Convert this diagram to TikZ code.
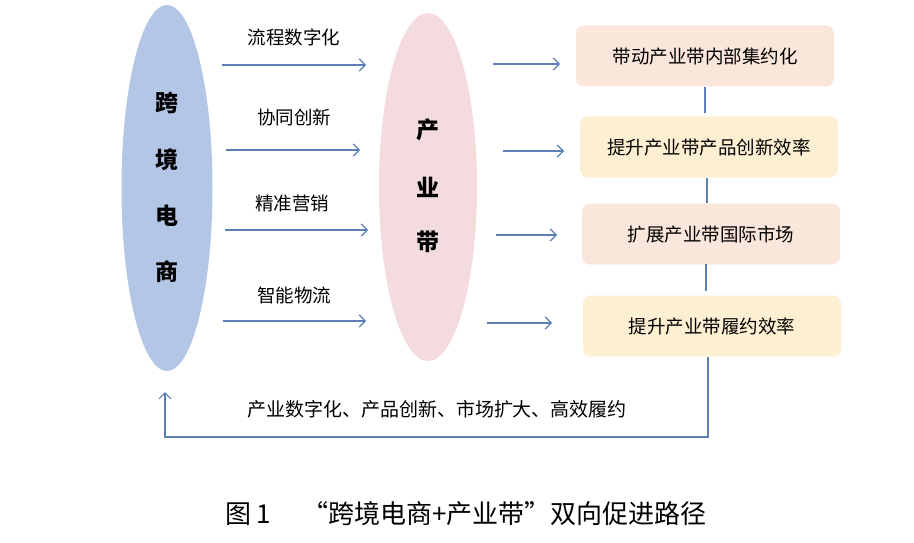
\documentclass[tikz,border=0pt]{standalone}
\usepackage{fontspec}
\setmainfont{Noto Sans CJK SC}
\usetikzlibrary{arrows.meta,shapes.geometric}
\definecolor{arrowblue}{HTML}{5B7FB5}
\definecolor{ellblue}{HTML}{B3C6E6}
\definecolor{ellpink}{HTML}{F4DCDE}
\definecolor{boxpeach}{HTML}{FAE6DA}
\definecolor{boxyellow}{HTML}{FDF0D2}
\tikzset{
  x=1pt, y=-1pt,
  flow/.style={draw=arrowblue, line width=1.2pt, -{Straight Barb[length=6pt,width=12pt,line width=1.2pt]}},
  link/.style={draw=arrowblue, line width=1.2pt},
  lbl/.style={font=\fontsize{18.5}{20}\selectfont, inner sep=0pt},
  bigchar/.style={font=\fontsize{23}{25}\selectfont\bfseries, inner sep=0pt},
  resbox/.style={rounded corners=8pt, minimum width=258pt, minimum height=61pt, inner sep=0pt, font=\fontsize{18.5}{20}\selectfont},
}
\begin{document}
\begin{tikzpicture}
\useasboundingbox (0,0) rectangle (914,543);
\fill[white] (0,0) rectangle (914,543);
% ellipses
\node[ellipse, fill=ellblue, minimum width=91pt, minimum height=366pt, inner sep=0pt] (ec) at (167,188) {};
\node[ellipse, fill=ellpink, minimum width=98pt, minimum height=348pt, inner sep=0pt] (ib) at (428,187) {};
\node[bigchar] (e1) at (167,103) {跨};
\node[bigchar] (e2) at (167,160) {境};
\node[bigchar] (e3) at (167,216) {电};
\node[bigchar] (e4) at (167,272) {商};
\node[bigchar] (i1) at (428,130) {产};
\node[bigchar] (i2) at (428,187) {业};
\node[bigchar] (i3) at (428,242) {带};
% left arrows
\coordinate (la1) at (222,65);  \coordinate (lb1) at (366,65);
\coordinate (la2) at (226,150); \coordinate (lb2) at (360,150);
\coordinate (la3) at (225,230); \coordinate (lb3) at (368,230);
\coordinate (la4) at (223,321); \coordinate (lb4) at (366,321);
\draw[flow] (la1) -- (lb1);
\draw[flow] (la2) -- (lb2);
\draw[flow] (la3) -- (lb3);
\draw[flow] (la4) -- (lb4);
\node[lbl] (t1) at (294,37) {流程数字化};
\node[lbl] (t2) at (294,117) {协同创新};
\node[lbl] (t3) at (292,203) {精准营销};
\node[lbl] (t4) at (294,295) {智能物流};
% boxes
\node[resbox, fill=boxpeach] (b1) at (705,56) {带动产业带内部集约化};
\node[resbox, fill=boxyellow] (b2) at (709,147) {提升产业带产品创新效率};
\node[resbox, fill=boxpeach] (b3) at (711,234) {扩展产业带国际市场};
\node[resbox, fill=boxyellow] (b4) at (712,326) {提升产业带履约效率};
% right arrows
\coordinate (ra1) at (493,64);  \coordinate (rb1) at (560,64);
\coordinate (ra2) at (503,151); \coordinate (rb2) at (564,151);
\coordinate (ra3) at (496,235); \coordinate (rb3) at (557,235);
\coordinate (ra4) at (487,323); \coordinate (rb4) at (552,323);
\draw[flow] (ra1) -- (rb1);
\draw[flow] (ra2) -- (rb2);
\draw[flow] (ra3) -- (rb3);
\draw[flow] (ra4) -- (rb4);
% vertical links
\draw[link] (705,87) -- (705,113);
\draw[link] (707,178) -- (707,203);
\draw[link] (706,264) -- (706,291);
% feedback
\coordinate (fb1) at (708,437);
\coordinate (fb2) at (165,437);
\coordinate (fb3) at (165,392);
\draw[flow] (708,357) -- (fb1) -- (fb2) -- (fb3);
\node[lbl, font=\fontsize{19}{21}\selectfont] (fl) at (437,409) {产业数字化、产品创新、市场扩大、高效履约};
% caption
\node[font=\fontsize{26}{28}\selectfont, inner sep=0pt] (cap) at (466,514) {图 1\hspace{1.2em}“跨境电商+产业带”双向促进路径};
\end{tikzpicture}
\end{document}
